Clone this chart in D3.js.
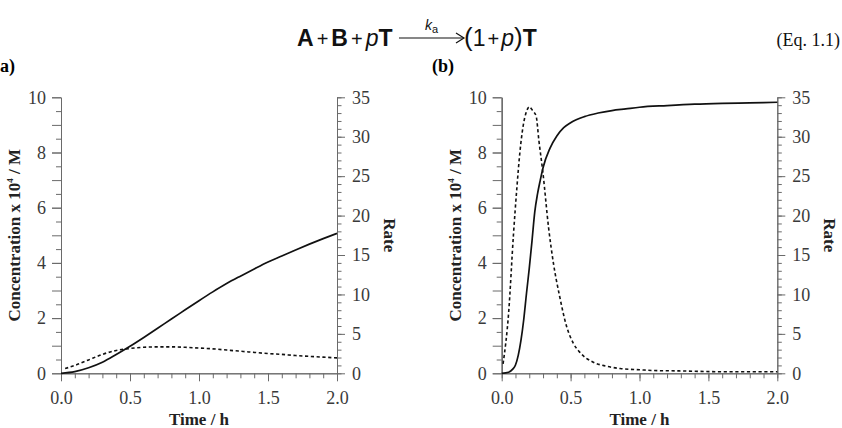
<!DOCTYPE html>
<html>
<head>
<meta charset="utf-8">
<script src="https://cdn.jsdelivr.net/npm/d3@7"></script>
<style>
  body { margin: 0; background: #fff; }
  svg { display: block; }
</style>
</head>
<body>
<div id="chart"></div>
<script>
const svgWidth = 842;
const svgHeight = 428;

// panel (a): slow autocatalytic run
const timeA = [0, 0.1, 0.2, 0.3, 0.4, 0.5, 0.6, 0.7, 0.8, 0.9, 1.0, 1.1, 1.2, 1.3, 1.4, 1.5, 1.6, 1.7, 1.8, 1.9, 2.0];
const concA = [0, 0.06, 0.2, 0.4, 0.68, 0.98, 1.3, 1.63, 1.97, 2.3, 2.63, 2.95, 3.25, 3.52, 3.78, 4.03, 4.25, 4.47, 4.68, 4.88, 5.07];
const rateTimeA = [0.03, 0.1, 0.2, 0.3, 0.4, 0.5, 0.6, 0.7, 0.8, 0.9, 1.0, 1.1, 1.2, 1.3, 1.4, 1.5, 1.6, 1.7, 1.8, 1.9, 2.0];
const rateA = [0.6, 1.0, 1.7, 2.4, 2.9, 3.15, 3.3, 3.35, 3.35, 3.3, 3.2, 3.1, 2.95, 2.8, 2.65, 2.5, 2.4, 2.25, 2.15, 2.05, 1.95];

// panel (b): fast autocatalytic run
const timeB = [0, 0.05, 0.08, 0.1, 0.12, 0.14, 0.16, 0.18, 0.2, 0.22, 0.24, 0.26, 0.28, 0.3, 0.35, 0.4, 0.45, 0.5, 0.6, 0.7, 0.8, 0.9, 1.0, 1.2, 1.4, 1.6, 1.8, 2.0];
const concB = [0, 0.04, 0.15, 0.3, 0.65, 1.2, 1.95, 2.9, 3.8, 4.8, 5.85, 6.5, 7.0, 7.45, 8.15, 8.6, 8.9, 9.08, 9.3, 9.43, 9.52, 9.58, 9.64, 9.7, 9.75, 9.78, 9.8, 9.82];
const rateTimeB = [0.01, 0.05, 0.085, 0.11, 0.133, 0.157, 0.18, 0.2, 0.225, 0.25, 0.27, 0.3, 0.34, 0.375, 0.42, 0.47, 0.52, 0.57, 0.665, 0.76, 0.86, 1.0, 1.1, 1.3, 1.58, 1.8, 2.0];
const rateB = [1.2, 7.6, 17.5, 23.5, 28.2, 31.5, 33.2, 33.8, 33.3, 32.6, 29.5, 25.3, 18.5, 14.0, 9.8, 6.0, 3.8, 2.6, 1.4, 0.9, 0.6, 0.45, 0.35, 0.3, 0.2, 0.2, 0.2];

const timeTicks = [0, 0.5, 1.0, 1.5, 2.0];
const concTicks = [0, 2, 4, 6, 8, 10];
const rateTicks = [0, 5, 10, 15, 20, 25, 30, 35];

const plotTop = 97.3, plotBottom = 373.3;
const panels = [
    { left: 61, right: 337, t: timeA, c: concA, rt: rateTimeA, r: rateA },
    { left: 501.7, right: 777.3, t: timeB, c: concB, rt: rateTimeB, r: rateB }
];

const serif = "'Liberation Serif', 'Times New Roman', serif";
const axisColor = "#6a6a6a";
const labelColor = "#3a3a3a";

const svg = d3.select("#chart")
    .append("svg")
    .attr("width", svgWidth)
    .attr("height", svgHeight);

function styleAxis(g, showLabels) {
    g.select(".domain").attr("stroke", axisColor).attr("stroke-width", 1);
    g.selectAll(".tick line").attr("stroke", axisColor).attr("stroke-width", 1);
    g.selectAll(".tick text")
        .attr("fill", labelColor)
        .style("font-family", serif)
        .style("font-size", "18px")
        .style("display", showLabels ? null : "none");
}

function drawPanel(p) {
    const x = d3.scaleLinear().domain([0, 2]).range([p.left, p.right]);
    const yConc = d3.scaleLinear().domain([0, 10]).range([plotBottom, plotTop]);
    const yRate = d3.scaleLinear().domain([0, 35]).range([plotBottom, plotTop]);

    const g = svg.append("g");

    // minor ticks first, majors on top
    g.append("g")
        .attr("transform", `translate(0, ${plotBottom})`)
        .call(d3.axisBottom(x).tickValues(d3.range(0, 2.001, 0.1)).tickSize(5).tickSizeOuter(0))
        .call(a => styleAxis(a, false));
    g.append("g")
        .attr("transform", `translate(0, ${plotBottom})`)
        .call(d3.axisBottom(x).tickValues(timeTicks).tickSize(8).tickSizeOuter(0).tickPadding(10)
            .tickFormat(d3.format(".1f")))
        .call(a => styleAxis(a, true));

    g.append("g")
        .attr("transform", `translate(${p.left}, 0)`)
        .call(d3.axisLeft(yConc).tickValues(d3.range(0.5, 10, 1)).tickSize(5).tickSizeOuter(0))
        .call(a => styleAxis(a, false));
    g.append("g")
        .attr("transform", `translate(${p.left}, 0)`)
        .call(d3.axisLeft(yConc).tickValues(d3.range(0, 10.001, 1)).tickSize(9).tickSizeOuter(0))
        .call(a => styleAxis(a, false));
    g.append("g")
        .attr("transform", `translate(${p.left}, 0)`)
        .call(d3.axisLeft(yConc).tickValues(concTicks).tickSize(9).tickSizeOuter(0).tickPadding(6))
        .call(a => styleAxis(a, true));

    g.append("g")
        .attr("transform", `translate(${p.right}, 0)`)
        .call(d3.axisRight(yRate).tickValues(d3.range(0, 35.001, 1)).tickSize(4.5).tickSizeOuter(0))
        .call(a => styleAxis(a, false));
    g.append("g")
        .attr("transform", `translate(${p.right}, 0)`)
        .call(d3.axisRight(yRate).tickValues(rateTicks).tickSize(8).tickSizeOuter(0).tickPadding(7))
        .call(a => styleAxis(a, true));

    // curves
    const concLine = d3.line()
        .x((d, i) => x(p.t[i]))
        .y(d => yConc(d))
        .curve(d3.curveMonotoneX);
    const rateLine = d3.line()
        .x((d, i) => x(p.rt[i]))
        .y(d => yRate(d))
        .curve(d3.curveMonotoneX);

    g.append("path")
        .datum(p.r)
        .attr("d", rateLine)
        .attr("fill", "none")
        .attr("stroke", "#111")
        .attr("stroke-width", 1.6)
        .attr("stroke-dasharray", "3.2,2.6");
    g.append("path")
        .datum(p.c)
        .attr("d", concLine)
        .attr("fill", "none")
        .attr("stroke", "#111")
        .attr("stroke-width", 1.7);

    // axis titles
    const mid = (plotTop + plotBottom) / 2;
    g.append("text")
        .attr("x", (p.left + p.right) / 2)
        .attr("y", 425)
        .attr("text-anchor", "middle")
        .style("font-family", serif)
        .style("font-weight", "bold")
        .style("font-size", "17px")
        .attr("fill", "#222")
        .text("Time / h");

    const yt = g.append("text")
        .attr("transform", `translate(${p.left - 41}, ${mid}) rotate(-90)`)
        .attr("text-anchor", "middle")
        .style("font-family", serif)
        .style("font-weight", "bold")
        .style("font-size", "17px")
        .attr("fill", "#222");
    yt.append("tspan").text("Concentration x 10");
    yt.append("tspan").attr("dy", -7).style("font-size", "9px").text("4");
    yt.append("tspan").attr("dy", 7).text(" / M");

    g.append("text")
        .attr("transform", `translate(${p.right + 47}, ${mid}) rotate(90)`)
        .attr("text-anchor", "middle")
        .style("font-family", serif)
        .style("font-weight", "bold")
        .style("font-size", "17px")
        .attr("fill", "#222")
        .text("Rate");
}

panels.forEach(drawPanel);

// panel letters
svg.append("text").attr("x", 0).attr("y", 72)
    .style("font-family", serif).style("font-weight", "bold").style("font-size", "18px")
    .text("a)");
svg.append("text").attr("x", 432).attr("y", 72)
    .style("font-family", serif).style("font-weight", "bold").style("font-size", "18px")
    .text("(b)");

// equation A + B + pT --ka--> (1+p)T
const sans = "'Liberation Sans', Arial, sans-serif";
const eqY = 46;
const lhs = svg.append("text")
    .attr("x", 297).attr("y", eqY)
    .style("font-family", sans).style("font-size", "23px").attr("fill", "#111");
lhs.append("tspan").style("font-weight", "bold").text("A");
lhs.append("tspan").attr("dx", 3).style("font-size", "20px").text("+");
lhs.append("tspan").attr("dx", 3).style("font-weight", "bold").text("B");
lhs.append("tspan").attr("dx", 3).style("font-size", "20px").text("+");
lhs.append("tspan").attr("dx", 3).style("font-style", "italic").text("p");
lhs.append("tspan").style("font-weight", "bold").text("T");

svg.append("line")
    .attr("x1", 399).attr("x2", 463).attr("y1", eqY - 8).attr("y2", eqY - 8)
    .attr("stroke", "#111").attr("stroke-width", 1.2);
svg.append("path")
    .attr("d", `M${456},${eqY - 13} L${464},${eqY - 8} L${456},${eqY - 3}`)
    .attr("fill", "none").attr("stroke", "#111").attr("stroke-width", 1.2);
const k = svg.append("text")
    .attr("x", 425).attr("y", eqY - 16)
    .style("font-family", sans).style("font-size", "14px").attr("fill", "#111");
k.append("tspan").style("font-style", "italic").text("k");
k.append("tspan").attr("dy", 3).style("font-size", "11px").text("a");

const rhs = svg.append("text")
    .attr("x", 464).attr("y", eqY)
    .style("font-family", sans).style("font-size", "23px").attr("fill", "#111");
rhs.append("tspan").style("font-size", "26px").style("font-weight", "300").text("(");
rhs.append("tspan").text("1");
rhs.append("tspan").attr("dx", 2).style("font-size", "20px").text("+");
rhs.append("tspan").attr("dx", 2).style("font-style", "italic").text("p");
rhs.append("tspan").style("font-size", "26px").text(")");
rhs.append("tspan").style("font-weight", "bold").text("T");

svg.append("text")
    .attr("x", 840).attr("y", eqY)
    .attr("text-anchor", "end")
    .style("font-family", serif).style("font-size", "18px").attr("fill", "#111")
    .text("(Eq. 1.1)");
</script>
</body>
</html>
